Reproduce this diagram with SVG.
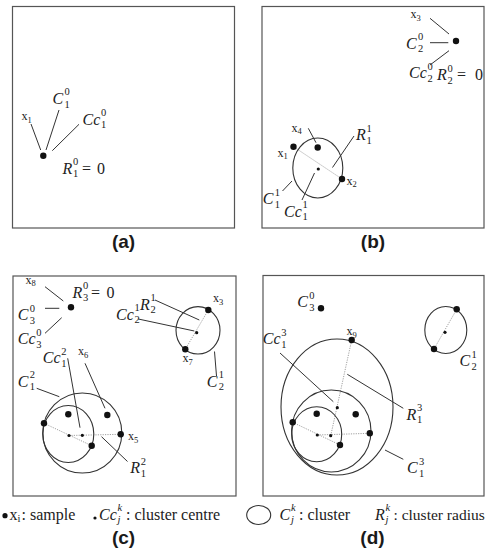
<svg xmlns="http://www.w3.org/2000/svg" width="487" height="558" viewBox="0 0 487 558">
<style>
.box{fill:none;stroke:#555;stroke-width:1.2}
.cl{fill:none;stroke:#333;stroke-width:1.1}
.ln{fill:none;stroke:#333;stroke-width:1}
.dt{fill:none;stroke:#888;stroke-width:0.8;stroke-dasharray:1.2 1.2}
.d{fill:#111}
.m{font-family:"Liberation Serif",serif;font-style:italic;font-size:16px;fill:#222}
.mu{font-family:"Liberation Serif",serif;font-size:16px;fill:#222}
.sc{font-family:"Liberation Serif",serif;font-size:10.5px;fill:#222}
.sci{font-family:"Liberation Serif",serif;font-style:italic;font-size:10.5px;fill:#222}
.x{font-family:"Liberation Serif",serif;font-size:12px;fill:#222}
.xs{font-family:"Liberation Serif",serif;font-size:8.5px;fill:#222}
.lab{font-family:"Liberation Sans",Arial,sans-serif;font-weight:bold;font-size:19px;fill:#1a1a1a;text-anchor:middle}
</style>
<rect width="487" height="558" fill="#fff"/>
<g id="panels">
<rect class="box" x="12.5" y="6.5" width="222" height="221.5"/>
<rect class="box" x="262" y="6.5" width="222" height="221.5"/>
<rect class="box" x="13" y="276" width="223" height="220"/>
<rect class="box" x="263" y="275.5" width="221" height="220.5"/>
</g>
<g id="connectors">
<line class="ln" x1="31" y1="124" x2="40.7" y2="150"/>
<line class="ln" x1="59" y1="110" x2="46" y2="150"/>
<line class="ln" x1="79" y1="124.3" x2="52.3" y2="150.7"/>
<line class="ln" x1="430" y1="18.3" x2="449" y2="34"/>
<line class="ln" x1="430" y1="42.7" x2="448.3" y2="42.7"/>
<line class="ln" x1="430" y1="65" x2="449" y2="50.7"/>
<line class="dt" x1="293.5" y1="146.7" x2="342" y2="179"/>
<line class="ln" x1="308.3" y1="128.3" x2="316" y2="142.7"/>
<line class="ln" x1="354" y1="136" x2="332.5" y2="167.5"/>
<line class="ln" x1="282.5" y1="191" x2="292" y2="181"/>
<line class="ln" x1="302" y1="200" x2="314.5" y2="173"/>
<line class="ln" x1="45" y1="286.7" x2="63.3" y2="301"/>
<line class="ln" x1="45" y1="308.3" x2="59.3" y2="308.3"/>
<line class="ln" x1="45" y1="333.3" x2="61.7" y2="317.7"/>
<line class="dt" x1="208.3" y1="310" x2="185.3" y2="349.3"/>
<line class="ln" x1="155" y1="300" x2="199.3" y2="320"/>
<line class="ln" x1="138.3" y1="319" x2="194.3" y2="331"/>
<line class="ln" x1="214.5" y1="351.5" x2="216.5" y2="376"/>
<line class="dt" x1="44" y1="423.3" x2="91.7" y2="445.7"/>
<line class="dt" x1="69" y1="435.5" x2="120.7" y2="434.3"/>
<line class="ln" x1="127.5" y1="461.5" x2="101.5" y2="436.7"/>
<line class="ln" x1="67.7" y1="358.3" x2="80" y2="427.7"/>
<line class="ln" x1="85" y1="363.3" x2="105" y2="408.3"/>
<line class="ln" x1="36.7" y1="388.3" x2="59.3" y2="396.7"/>
<line class="dt" x1="456.7" y1="309.3" x2="434" y2="349"/>
<line class="dt" x1="292.7" y1="422.3" x2="340" y2="445"/>
<line class="dt" x1="317.3" y1="435" x2="369.3" y2="433.3"/>
<line class="dt" x1="330.7" y1="435.7" x2="351.7" y2="340"/>
<line class="ln" x1="280" y1="353" x2="333.3" y2="401.7"/>
<line class="ln" x1="403.3" y1="408.3" x2="347.3" y2="374.3"/>
<line class="ln" x1="403.3" y1="459.3" x2="385" y2="450"/>
</g>
<g id="panel-a">
<g id="a-x1"><circle class="d" cx="43.3" cy="155.7" r="3.2"/></g>
<text class="x" x="21.5" y="120">x</text><text class="xs" x="27.5" y="122.5">1</text>
<text class="m" x="52.5" y="104">C</text><text class="sc" x="64.5" y="95">0</text><text class="sc" x="64.5" y="107.5">1</text>
<text class="m" x="82.5" y="124.5">Cc</text><text class="sc" x="101" y="116">0</text><text class="sc" x="101" y="128">1</text>
<text class="m" x="62.5" y="173.5">R</text><text class="sc" x="73" y="165">0</text><text class="sc" x="73" y="177">1</text>
<text class="mu" x="82" y="173.5">=<tspan x="97">0</tspan></text>
</g>
<g id="panel-b">
<g id="b-x3"><circle class="d" cx="456" cy="41" r="3.2"/></g>
<text class="x" x="410.5" y="18">x</text><text class="xs" x="416.5" y="20.5">3</text>
<text class="m" x="406" y="48.5">C</text><text class="sc" x="418" y="40">0</text><text class="sc" x="418" y="52">2</text>
<text class="m" x="409" y="78">Cc</text><text class="sc" x="427.5" y="69.5">0</text><text class="sc" x="427.5" y="81.5">2</text>
<text class="m" x="437" y="80">R</text><text class="sc" x="447.5" y="71.5">0</text><text class="sc" x="447.5" y="83.5">2</text>
<text class="mu" x="457" y="80">=<tspan x="475">0</tspan></text>
<g id="b-C11">
<ellipse class="cl" cx="317.8" cy="168" rx="25" ry="30"/>
<circle class="d" cx="293.5" cy="146.7" r="3.2"/>
<circle class="d" cx="342" cy="179" r="3.2"/>
<circle class="d" cx="317.7" cy="147.5" r="3.2"/>
<circle class="d" cx="318.3" cy="169" r="1.6"/>
</g>
<text class="x" x="291.5" y="131.5">x</text><text class="xs" x="297.5" y="134">4</text>
<text class="x" x="277.5" y="156.5">x</text><text class="xs" x="283.5" y="159">1</text>
<text class="x" x="346.5" y="184.5">x</text><text class="xs" x="352.5" y="187">2</text>
<text class="m" x="356" y="140">R</text><text class="sc" x="366.5" y="131.5">1</text><text class="sc" x="366.5" y="143.5">1</text>
<text class="m" x="262.8" y="204">C</text><text class="sc" x="274.8" y="195.5">1</text><text class="sc" x="274.8" y="207.5">1</text>
<text class="m" x="284" y="216.5">Cc</text><text class="sc" x="302.5" y="208">1</text><text class="sc" x="302.5" y="220">1</text>
</g>
<g id="panel-c">
<g id="c-x8"><circle class="d" cx="71" cy="307.3" r="3.2"/></g>
<text class="x" x="25.5" y="283.5">x</text><text class="xs" x="31.5" y="286">8</text>
<text class="m" x="72.5" y="297.5">R</text><text class="sc" x="83" y="289">0</text><text class="sc" x="83" y="301">3</text>
<text class="mu" x="91" y="297.5">=<tspan x="106.5">0</tspan></text>
<text class="m" x="17.8" y="320">C</text><text class="sc" x="29.8" y="311.5">0</text><text class="sc" x="29.8" y="323.5">3</text>
<text class="m" x="17.8" y="344">Cc</text><text class="sc" x="36.3" y="335.5">0</text><text class="sc" x="36.3" y="347.5">3</text>
<g id="c-C21">
<ellipse class="cl" cx="198" cy="330.3" rx="22" ry="23.7"/>
<circle class="d" cx="208.3" cy="310" r="3.2"/>
<circle class="d" cx="185.3" cy="349.3" r="3.2"/>
<circle class="d" cx="196.7" cy="332.7" r="1.6"/>
</g>
<text class="x" x="213" y="302">x</text><text class="xs" x="219" y="304.5">3</text>
<text class="x" x="182.5" y="362">x</text><text class="xs" x="188.5" y="364.5">7</text>
<text class="m" x="140" y="309.5">R</text><text class="sc" x="150.5" y="301">1</text><text class="sc" x="150.5" y="313">2</text>
<text class="m" x="116" y="319.5">Cc</text><text class="sc" x="134.5" y="311">1</text><text class="sc" x="134.5" y="323">2</text>
<text class="m" x="206.8" y="386.5">C</text><text class="sc" x="218.8" y="378">1</text><text class="sc" x="218.8" y="390">2</text>
<g id="c-C12">
<ellipse class="cl" cx="82.3" cy="433" rx="39.5" ry="40"/>
<ellipse class="cl" cx="68.3" cy="434" rx="25.5" ry="28.5"/>
<circle class="d" cx="44" cy="423.3" r="3.2"/>
<circle class="d" cx="68.3" cy="414.3" r="3.2"/>
<circle class="d" cx="107.3" cy="415" r="3.2"/>
<circle class="d" cx="120.7" cy="434.3" r="3.2"/>
<circle class="d" cx="91.7" cy="445.7" r="3.2"/>
<circle class="d" cx="69" cy="435.5" r="1.6"/>
<circle class="d" cx="82.3" cy="435.3" r="1.6"/>
</g>
<text class="x" x="128" y="440">x</text><text class="xs" x="134" y="442.5">5</text>
<text class="m" x="130.2" y="473">R</text><text class="sc" x="140.8" y="464.5">2</text><text class="sc" x="140.8" y="476.5">1</text>
<text class="m" x="42.8" y="363">Cc</text><text class="sc" x="61.3" y="354.5">2</text><text class="sc" x="61.3" y="366.5">1</text>
<text class="x" x="78" y="355">x</text><text class="xs" x="84" y="357.5">6</text>
<text class="m" x="17.8" y="386.5">C</text><text class="sc" x="29.8" y="378">2</text><text class="sc" x="29.8" y="390">1</text>
</g>
<g id="panel-d">
<g id="d-C30"><circle class="d" cx="321" cy="308.3" r="3.2"/></g>
<text class="m" x="297.2" y="307">C</text><text class="sc" x="309.2" y="298.5">0</text><text class="sc" x="309.2" y="310.5">3</text>
<g id="d-C21">
<ellipse class="cl" cx="445.8" cy="330" rx="21" ry="23.5"/>
<circle class="d" cx="456.7" cy="309.3" r="3.2"/>
<circle class="d" cx="434" cy="349" r="3.2"/>
<circle class="d" cx="445" cy="332.3" r="1.6"/>
</g>
<text class="m" x="459.5" y="366">C</text><text class="sc" x="471.5" y="357.5">1</text><text class="sc" x="471.5" y="369.5">2</text>
<g id="d-C13">
<ellipse class="cl" cx="337" cy="407" rx="56" ry="68"/>
<ellipse class="cl" cx="331.3" cy="431" rx="39.7" ry="41"/>
<ellipse class="cl" cx="316.7" cy="434.2" rx="25" ry="27.5"/>
<circle class="d" cx="351.7" cy="340" r="3.2"/>
<circle class="d" cx="292.7" cy="422.3" r="3.2"/>
<circle class="d" cx="316.7" cy="413.7" r="3.2"/>
<circle class="d" cx="355.7" cy="414.3" r="3.2"/>
<circle class="d" cx="369.8" cy="433.3" r="3.2"/>
<circle class="d" cx="340" cy="445" r="3.2"/>
<circle class="d" cx="317.3" cy="435" r="1.6"/>
<circle class="d" cx="330.7" cy="435.7" r="1.6"/>
<circle class="d" cx="337.3" cy="407.7" r="1.6"/>
</g>
<text class="x" x="346.5" y="335">x</text><text class="xs" x="352.5" y="337.5">9</text>
<text class="m" x="262.8" y="344.3">Cc</text><text class="sc" x="281.3" y="335.8">3</text><text class="sc" x="281.3" y="347.8">1</text>
<text class="m" x="406.5" y="419.5">R</text><text class="sc" x="417" y="411">3</text><text class="sc" x="417" y="423">1</text>
<text class="m" x="407" y="473">C</text><text class="sc" x="419" y="464.5">3</text><text class="sc" x="419" y="476.5">1</text>
</g>
<g id="captions">
<text class="lab" x="123.5" y="248">(a)</text>
<text class="lab" x="373" y="248">(b)</text>
<text class="lab" x="123.5" y="544">(c)</text>
<text class="lab" x="372.5" y="544">(d)</text>
</g>
<g id="legend">
<circle class="d" cx="5" cy="515.7" r="2.6"/>
<text class="mu" x="9.5" y="519.5">x</text><text class="sc" x="17.5" y="522">i</text>
<text class="mu" x="21.5" y="519.5">: sample</text>
<circle class="d" cx="95" cy="518" r="1.6"/>
<text class="m" x="99" y="519.5">Cc</text><text class="sci" x="117.5" y="511">k</text><text class="sci" x="117.5" y="523">j</text>
<text class="mu" x="126" y="519.5">: cluster centre</text>
<ellipse class="cl" cx="258.7" cy="515" rx="12" ry="9.5"/>
<text class="m" x="279.5" y="519.5">C</text><text class="sci" x="291" y="511">k</text><text class="sci" x="291" y="523">j</text>
<text class="mu" x="299" y="519.5">: cluster</text>
<text class="m" x="375" y="519.5">R</text><text class="sci" x="385.5" y="511">k</text><text class="sci" x="385.5" y="523">j</text>
<text class="mu" x="393.5" y="519.5" style="font-size:15.5px">: cluster radius</text>
</g>
</svg>
